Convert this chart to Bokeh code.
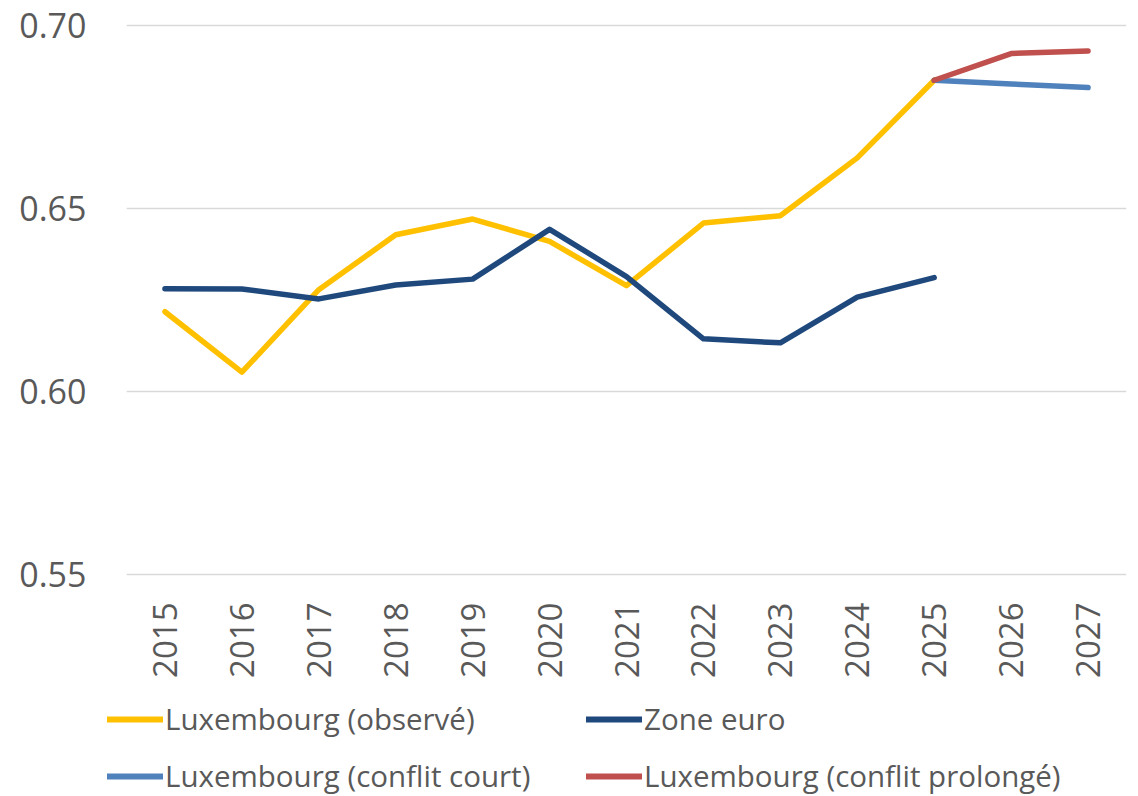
import math
from bokeh.plotting import figure
from bokeh.layouts import column
from bokeh.models import Range1d, FixedTicker, PrintfTickFormatter, Legend, LegendItem
from bokeh.embed import file_html
from bokeh.resources import INLINE

years = [str(y) for y in range(2015, 2028)]

lux_years = [str(y) for y in range(2015, 2026)]
lux_obs = [0.6218, 0.6053, 0.6278, 0.6428, 0.6471, 0.6410, 0.6289, 0.6460, 0.6480, 0.6638, 0.6850]

ez_years = [str(y) for y in range(2015, 2026)]
zone_euro = [0.6281, 0.6280, 0.6253, 0.6291, 0.6307, 0.6443, 0.6314, 0.6144, 0.6133, 0.6258, 0.6311]

proj_years = ["2025", "2026", "2027"]
conflit_court = [0.6850, 0.6840, 0.6830]
conflit_prolonge = [0.6850, 0.6923, 0.6930]

y_ticks = [0.55, 0.60, 0.65, 0.70]

series_labels = ["Luxembourg (observé)", "Zone euro",
                 "Luxembourg (conflit court)", "Luxembourg (conflit prolongé)"]
series_colors = ["#FFC000", "#1F497D", "#4F81BD", "#C0504D"]

FONT = "Open Sans"
TXT = "#595959"
LW = 5.5

p = figure(width=1130, height=690, x_range=years, y_range=Range1d(0.5495, 0.7005),
           output_backend="svg", toolbar_location=None, frame_align=False,
           min_border_left=126, min_border_right=4, min_border_top=23, min_border_bottom=114)
p.outline_line_color = None
p.ygrid.grid_line_color = "#d9d9d9"
p.ygrid.grid_line_width = 1.5
p.xgrid.grid_line_color = None
p.ygrid.ticker = FixedTicker(ticks=y_ticks)
p.yaxis.ticker = FixedTicker(ticks=y_ticks)
p.yaxis.formatter = PrintfTickFormatter(format="%.2f")
for ax in (p.xaxis[0], p.yaxis[0]):
    ax.axis_line_color = None
    ax.major_tick_line_color = None
    ax.minor_tick_line_color = None
    ax.major_label_text_font = FONT
    ax.major_label_text_color = TXT
p.yaxis.major_label_text_font_size = "34px"
p.xaxis.major_label_text_font_size = "33px"
p.yaxis.major_label_standoff = 34
p.xaxis.major_label_standoff = 20
p.xaxis.major_label_orientation = math.pi / 2

datasets = [(lux_years, lux_obs), (ez_years, zone_euro),
            (proj_years, conflit_court), (proj_years, conflit_prolonge)]
for (xs, ys), c in zip(datasets, series_colors):
    p.line(xs, ys, line_color=c, line_width=LW, line_cap="round", line_join="round")

# legend panel below the chart
lg = figure(width=1130, height=106, x_range=Range1d(0, 1130), y_range=Range1d(0, 106),
            output_backend="svg", toolbar_location=None, frame_align=False,
            x_axis_type=None, y_axis_type=None,
            min_border_left=0, min_border_right=0, min_border_top=0, min_border_bottom=0)
lg.outline_line_color = None
lg.xgrid.grid_line_color = None
lg.ygrid.grid_line_color = None
proxies = [lg.line(x=[0], y=[0], line_color=c, line_width=6, line_cap="round") for c in series_colors]

def mk_legend(idx, loc):
    return Legend(items=[LegendItem(label=series_labels[i], renderers=[proxies[i]]) for i in idx],
                  location=loc, orientation="vertical",
                  glyph_width=56, glyph_height=30, label_height=30, label_standoff=2,
                  spacing=16, padding=0, margin=0,
                  border_line_color=None, background_fill_alpha=0,
                  label_text_font=FONT, label_text_color=TXT, label_text_font_size="29.5px")

lg.add_layout(mk_legend([0, 2], (107, 0)), "center")
lg.add_layout(mk_legend([1, 3], (586, 0)), "center")

layout = column(p, lg, spacing=0)
open("out.html", "w").write(file_html(layout, INLINE))
